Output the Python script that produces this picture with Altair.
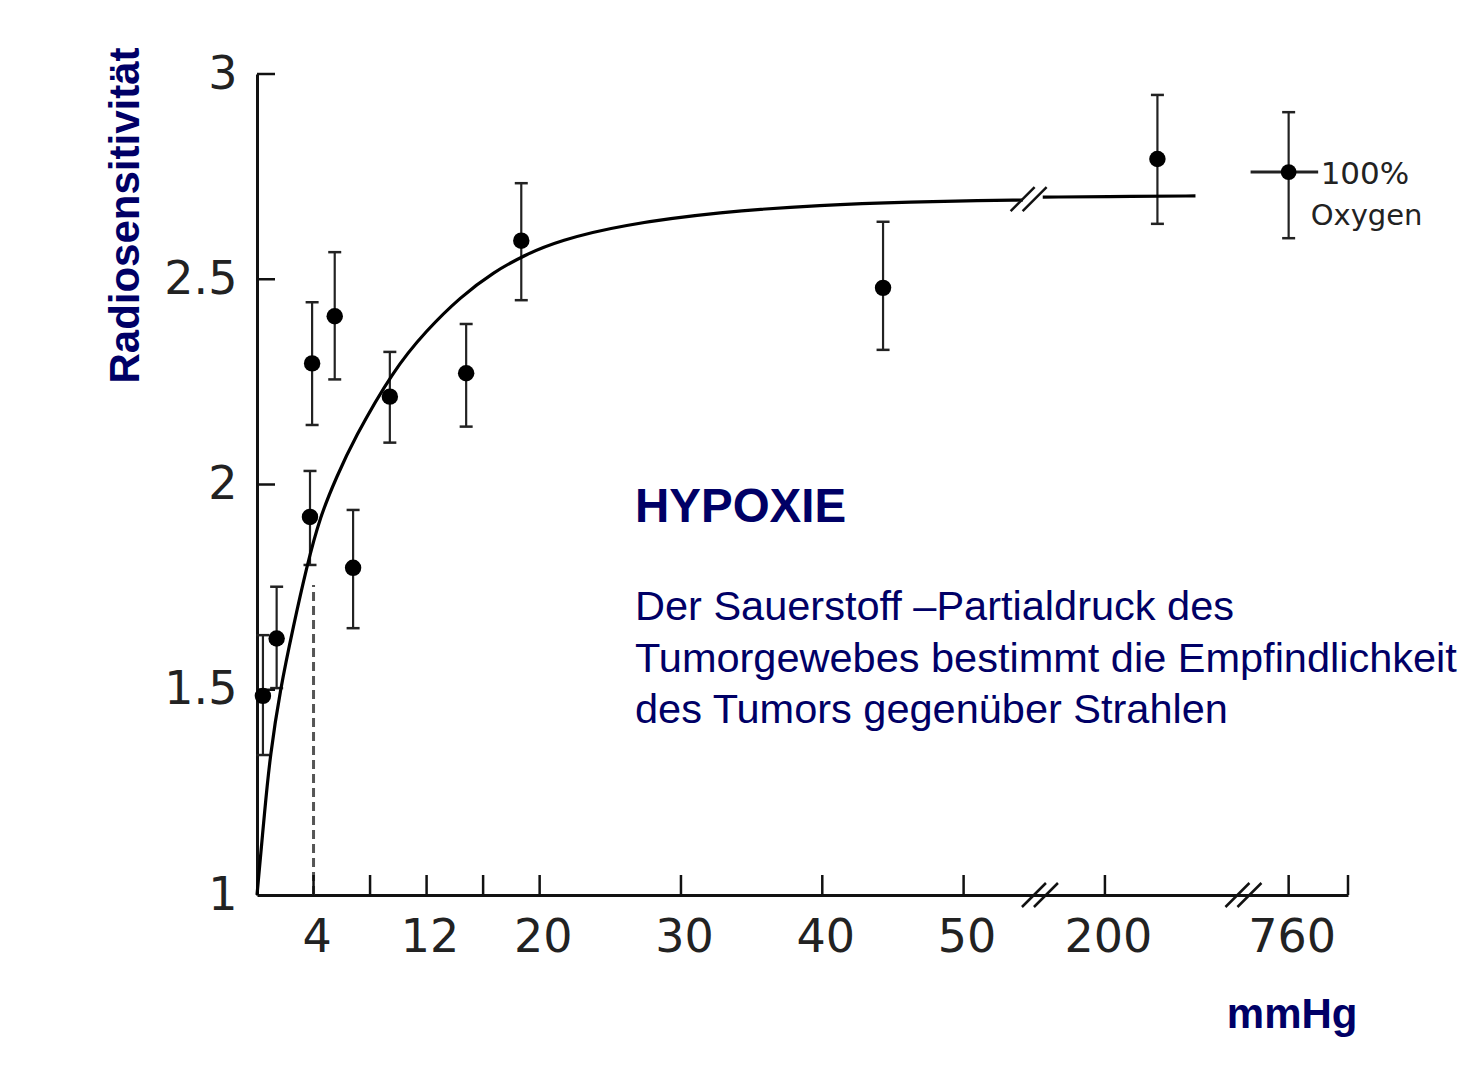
import altair as alt
import pandas as pd
import numpy as np

# ---------------- data ----------------
# measured points: pO2 (mmHg), radiosensitivity, error bar low / high
pts_mmhg = [0.42, 1.39, 3.75, 6.8, 3.9, 5.5, 9.4, 14.8, 18.7, 44.3, 360]
pts_val = [1.485, 1.625, 1.921, 1.797, 2.295, 2.410, 2.214, 2.271, 2.594, 2.479, 2.793]
pts_lo = [1.341, 1.504, 1.804, 1.650, 2.145, 2.256, 2.102, 2.141, 2.449, 2.328, 2.635]
pts_hi = [1.633, 1.751, 2.033, 1.938, 2.444, 2.566, 2.323, 2.391, 2.734, 2.640, 2.949]

# 100% oxygen marker
oxy_mmhg = [760]
oxy_val = [2.761]
oxy_lo = [2.600]
oxy_hi = [2.907]
oxy_x_lo = [644]
oxy_x_hi = [850]
oxy_text = ["100%", "Oxygen"]

# fitted curve (two segments, interrupted at the axis break)
curve1_mmhg = [0, 0.57, 0.92, 1.63, 2.57, 3.52, 4.46, 5.64, 6.82, 9.65, 12.0,
               14.4, 16.7, 19.1, 21.4, 25.7, 32.8, 39.8, 46.9, 50, 113]
curve1_val = [1.0, 1.215, 1.337, 1.499, 1.654, 1.80, 1.922, 2.019, 2.108, 2.279,
              2.376, 2.457, 2.517, 2.562, 2.594, 2.632, 2.664, 2.681, 2.689, 2.691, 2.693]
curve2_mmhg = [134, 300, 476]
curve2_val = [2.700, 2.702, 2.703]

# dashed marker at 4 mmHg
dash_mmhg = [4]
dash_top = [1.755]

# axes
x_tick_mmhg = [4, 8, 12, 16, 20, 30, 40, 50, 200, 760]
x_label_mmhg = [4, 12, 20, 30, 40, 50, 200, 760]
y_ticks = [1.5, 2, 2.5, 3]
y_labels = [1, 1.5, 2, 2.5, 3]

# broken axis: mmHg -> axis position
axis_mmhg = [0, 50, 200, 760, 1000]
axis_pos = [0, 50, 60, 73, 78.57]
x_max = 77.2
# axis break centres (axis position, value)
break_pos = [55.4, 69.8, 54.6]
break_val = [1.0, 1.0, 2.695]

title_text = "HYPOXIE"
para_lines = ["Der Sauerstoff \u2013Partialdruck des",
              "Tumorgewebes bestimmt die Empfindlichkeit",
              "des Tumors gegenüber Strahlen"]

NAVY = "#000066"
INK = "#111111"
NUMFONT = "DejaVu Sans, Liberation Sans, sans-serif"
TXTFONT = "Liberation Sans, Arial, sans-serif"


def to_axis(v):
    return np.interp(np.asarray(v, dtype=float), axis_mmhg, axis_pos)


X = alt.Scale(domain=[0, x_max], nice=False, zero=False)
Y = alt.Scale(domain=[1, 3], nice=False, zero=False)

PXX = 1091 / x_max          # pixels per axis unit
PXY = 821 / 2.0             # pixels per value unit

label_pos = [float(p) for p in to_axis(x_label_mmhg)]
expr_parts = []
for p, m in zip(label_pos, x_label_mmhg):
    expr_parts.append(f"abs(datum.value - {p:.4f}) < 0.01 ? '{m}'")
x_label_expr = " : ".join(expr_parts) + " : ''"

# ---------------- tables ----------------
pts = pd.DataFrame({"x": to_axis(pts_mmhg), "v": pts_val, "lo": pts_lo, "hi": pts_hi})
cap_half = 6.5 / PXX
caps = pd.concat([
    pd.DataFrame({"x1": pts.x - cap_half, "x2": pts.x + cap_half, "y": pts.lo}),
    pd.DataFrame({"x1": pts.x - cap_half, "x2": pts.x + cap_half, "y": pts.hi}),
])

oxy = pd.DataFrame({"x": to_axis(oxy_mmhg), "v": oxy_val, "lo": oxy_lo, "hi": oxy_hi,
                    "xl": to_axis(oxy_x_lo), "xh": to_axis(oxy_x_hi)})
oxy_caps = pd.concat([
    pd.DataFrame({"x1": oxy.x - cap_half, "x2": oxy.x + cap_half, "y": oxy.lo}),
    pd.DataFrame({"x1": oxy.x - cap_half, "x2": oxy.x + cap_half, "y": oxy.hi}),
])

curve = pd.concat([
    pd.DataFrame({"x": to_axis(curve1_mmhg), "v": curve1_val, "seg": 1}),
    pd.DataFrame({"x": to_axis(curve2_mmhg), "v": curve2_val, "seg": 2}),
])

dash = pd.DataFrame({"x": to_axis(dash_mmhg), "y1": 1.0, "y2": dash_top})

tick_h = 20 / PXY
xt = pd.DataFrame({"x": list(to_axis(x_tick_mmhg)) + [x_max]})
xt["y1"] = 1.0
xt["y2"] = 1.0 + tick_h
yt = pd.DataFrame({"y": y_ticks, "x1": 0.0, "x2": 18 / PXX})

sl_dx, sl_dy, sl_gap = 12 / PXX, 12 / PXY, 6 / PXX
brk_rows = []
for bp, bv in zip(break_pos, break_val):
    for s in (-1, 1):
        c = bp + s * sl_gap
        brk_rows.append({"x1": c - sl_dx, "x2": c + sl_dx, "y1": bv - sl_dy, "y2": bv + sl_dy})
brk = pd.DataFrame(brk_rows)

txt_x = (635 - 257) / PXX
ann = pd.DataFrame({"x": [txt_x], "y": [1 + (895 - 522) / PXY], "t": [title_text]})
para = pd.DataFrame({"x": [txt_x], "y": [1 + (895 - 620) / PXY], "t": ["\n".join(para_lines)]})

oxy_lab1 = pd.DataFrame({"x": [float(oxy.x[0])], "y": [oxy_val[0] - 12 / PXY], "t": [oxy_text[0]]})
oxy_lab2 = pd.DataFrame({"x": [float(oxy.x[0])], "y": [oxy_val[0] - 53 / PXY], "t": [oxy_text[1]]})

# ---------------- layers ----------------
x_axis = alt.Axis(values=label_pos, labelExpr=x_label_expr, grid=False, ticks=False, tickSize=0,
                  domain=True, domainWidth=3, domainColor=INK, labelFont=NUMFONT,
                  labelFontSize=46, labelColor="#222222", labelPadding=20, labelFlush=False,
                  labelOverlap=False, labelOffset=3, title="mmHg", titleFont=TXTFONT,
                  titleFontSize=42, titleFontWeight="bold", titleColor=NAVY, titleX=1100,
                  titleY=132, titleAlign="right", titleBaseline="alphabetic")
y_axis = alt.Axis(values=y_labels, labelExpr="'' + datum.value", grid=False, ticks=False,
                  tickSize=0, domain=True, domainWidth=3, domainColor=INK, labelFont=NUMFONT,
                  labelFontSize=46, labelColor="#222222", labelPadding=20, labelFlush=False,
                  labelOverlap=False, title="Radiosensitivität", titleFont=TXTFONT,
                  titleFontSize=42, titleFontWeight="bold", titleColor=NAVY, titleAngle=270,
                  titleX=-132, titleY=141, titleAlign="center", titleBaseline="middle")

errbars = alt.Chart(pts).mark_rule(color="#222222", strokeWidth=2.2).encode(
    x=alt.X("x:Q", scale=X, axis=x_axis),
    y=alt.Y("lo:Q", scale=Y, axis=y_axis),
    y2="hi:Q")
errcaps = alt.Chart(caps).mark_rule(color="#222222", strokeWidth=2.5).encode(
    x=alt.X("x1:Q", scale=X), x2="x2:Q", y=alt.Y("y:Q", scale=Y))
points = alt.Chart(pts).mark_circle(size=270, color="#000000", opacity=1).encode(
    x=alt.X("x:Q", scale=X), y=alt.Y("v:Q", scale=Y))
curve_l = alt.Chart(curve).mark_line(color="#000000", strokeWidth=3.2, interpolate="basis").encode(
    x=alt.X("x:Q", scale=X), y=alt.Y("v:Q", scale=Y), detail="seg:N")
dash_l = alt.Chart(dash).mark_rule(color="#555555", strokeWidth=3, strokeDash=[9, 5]).encode(
    x=alt.X("x:Q", scale=X), y=alt.Y("y1:Q", scale=Y), y2="y2:Q")
xticks = alt.Chart(xt).mark_rule(color=INK, strokeWidth=2.5).encode(
    x=alt.X("x:Q", scale=X), y=alt.Y("y1:Q", scale=Y), y2="y2:Q")
yticks = alt.Chart(yt).mark_rule(color=INK, strokeWidth=2.5).encode(
    x=alt.X("x1:Q", scale=X), x2="x2:Q", y=alt.Y("y:Q", scale=Y))
breaks = alt.Chart(brk).mark_rule(color=INK, strokeWidth=2.5).encode(
    x=alt.X("x1:Q", scale=X), x2="x2:Q", y=alt.Y("y1:Q", scale=Y), y2="y2:Q")

oxy_v = alt.Chart(oxy).mark_rule(color="#222222", strokeWidth=2.2).encode(
    x=alt.X("x:Q", scale=X), y=alt.Y("lo:Q", scale=Y), y2="hi:Q")
oxy_h = alt.Chart(oxy).mark_rule(color="#222222", strokeWidth=3).encode(
    x=alt.X("xl:Q", scale=X), x2="xh:Q", y=alt.Y("v:Q", scale=Y))
oxy_c = alt.Chart(oxy_caps).mark_rule(color="#222222", strokeWidth=2.5).encode(
    x=alt.X("x1:Q", scale=X), x2="x2:Q", y=alt.Y("y:Q", scale=Y))
oxy_p = alt.Chart(oxy).mark_circle(size=250, color="#000000", opacity=1).encode(
    x=alt.X("x:Q", scale=X), y=alt.Y("v:Q", scale=Y))
oxy_t1 = alt.Chart(oxy_lab1).mark_text(align="left", baseline="alphabetic", font=NUMFONT,
                                       fontSize=31, color="#222222", dx=32).encode(
    x=alt.X("x:Q", scale=X), y=alt.Y("y:Q", scale=Y), text="t:N")
oxy_t2 = alt.Chart(oxy_lab2).mark_text(align="left", baseline="alphabetic", font=NUMFONT,
                                       fontSize=29, color="#222222", dx=22).encode(
    x=alt.X("x:Q", scale=X), y=alt.Y("y:Q", scale=Y), text="t:N")

ann_t = alt.Chart(ann).mark_text(align="left", baseline="alphabetic", font=TXTFONT,
                                 fontSize=47.5, fontWeight="bold", color=NAVY).encode(
    x=alt.X("x:Q", scale=X), y=alt.Y("y:Q", scale=Y), text="t:N")
para_t = alt.Chart(para).mark_text(align="left", baseline="alphabetic", font=TXTFONT,
                                   fontSize=41.5, color=NAVY, lineBreak="\n", lineHeight=51.5).encode(
    x=alt.X("x:Q", scale=X), y=alt.Y("y:Q", scale=Y), text="t:N")

chart = alt.layer(
    errbars, errcaps, dash_l, xticks, yticks, curve_l, breaks, points,
    oxy_v, oxy_h, oxy_c, oxy_p, oxy_t1, oxy_t2, ann_t, para_t
).properties(
    width=1091, height=821,
    autosize=alt.AutoSizeParams(type="none"),
    padding={"left": 249, "top": 66, "right": 119, "bottom": 170},
    background="#ffffff",
).configure_view(stroke=None)

chart.save("out.html", embed_options={"renderer": "svg", "actions": False})
